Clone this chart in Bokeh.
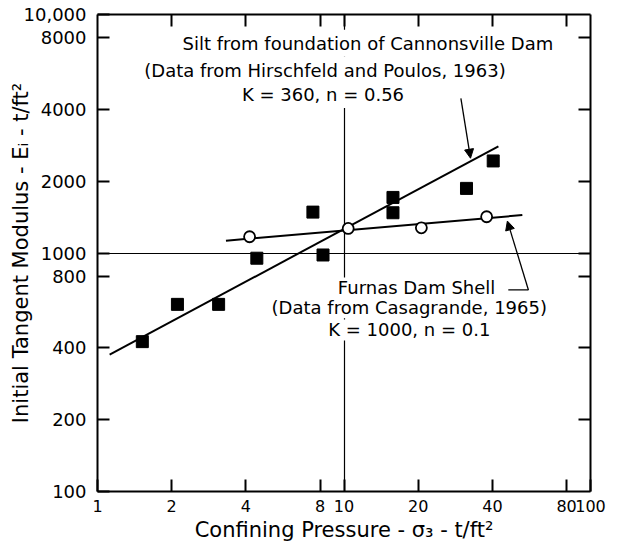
from bokeh.plotting import figure
from bokeh.models import LogAxis, FixedTicker, Label, Arrow, NormalHead, Range1d
from bokeh.embed import file_html
from bokeh.resources import INLINE

# ---- data ----
x_ticks = [1, 2, 4, 8, 10, 20, 40, 80, 100]
x_tick_labels = ["1", "2", "4", "8", "10", "20", "40", "80", "100"]
y_ticks = [100, 200, 400, 800, 1000, 2000, 4000, 8000, 10000]
y_tick_labels = ["100", "200", "400", "800", "1000", "2000", "4000", "8000", "10,000"]

# Silt from foundation of Cannonsville Dam (filled squares)
silt_x = [1.52, 2.11, 3.10, 4.43, 7.48, 8.22, 15.8, 15.8, 31.4, 40.3]
silt_y = [425, 609, 609, 951, 1484, 981, 1710, 1475, 1866, 2432]
silt_fit_x = [1.12, 42.3]
silt_fit_y = [375, 2800]

# Furnas Dam Shell (open circles)
furnas_x = [4.14, 10.4, 20.6, 37.9]
furnas_y = [1170, 1268, 1275, 1419]
furnas_fit_x = [3.32, 52.9]
furnas_fit_y = [1126, 1442]

silt_text = ["Silt from foundation of Cannonsville Dam",
             "(Data from Hirschfeld and Poulos, 1963)",
             "K = 360,  n = 0.56"]
silt_text_x = [12.5, 8.37, 8.44]
silt_text_y = [7570, 5834, 4624]

furnas_text = ["Furnas Dam Shell",
               "(Data from Casagrande, 1965)",
               "K = 1000, n = 0.1"]
furnas_text_x = [19.7, 18.4, 18.4]
furnas_text_y = [714, 589, 476]

silt_arrow = dict(x_start=29.8, y_start=4451, x_end=32.6, y_end=2497)
furnas_leader_x = [46.4, 56.0]
furnas_leader_y = [700, 700]
furnas_arrow = dict(x_start=56.0, y_start=700, x_end=46.0, y_end=1361)

FONT = "DejaVu Sans"

p = figure(x_axis_type="log", y_axis_type="log",
           x_range=Range1d(1, 100), y_range=Range1d(100, 10000),
           frame_width=493, frame_height=477,
           min_border_left=97, min_border_top=14, min_border_right=17, min_border_bottom=53,
           output_backend="svg", toolbar_location=None)
p.outline_line_color = None
p.background_fill_color = "white"
p.border_fill_color = "white"

# extra axes (ticks only)
top = LogAxis()
right = LogAxis()
p.add_layout(top, "above")
p.add_layout(right, "right")


def style_axis(ax, ticks, labels, show_labels=True):
    ax.ticker = FixedTicker(ticks=ticks)
    if show_labels:
        ax.major_label_overrides = {t: l for t, l in zip(ticks, labels)}
    else:
        ax.major_label_overrides = {t: "" for t in ticks}
        ax.major_label_standoff = 0
    ax.major_tick_in = 12
    ax.major_tick_out = 0
    ax.minor_tick_line_color = None
    ax.axis_line_width = 2
    ax.axis_line_color = "black"
    ax.major_tick_line_width = 2
    ax.major_tick_line_color = "black"
    ax.major_label_text_font = FONT
    ax.major_label_text_font_size = "18px"
    ax.major_label_text_color = "black"
    ax.axis_label_text_font = FONT
    ax.axis_label_text_font_size = "21px"
    ax.axis_label_text_font_style = "normal"
    ax.axis_label_text_color = "black"


for ax in p.xaxis:
    style_axis(ax, x_ticks, x_tick_labels)
for ax in p.yaxis:
    style_axis(ax, y_ticks, y_tick_labels)
style_axis(top, x_ticks[1:-1], x_tick_labels[1:-1], show_labels=False)
style_axis(right, y_ticks[1:-1], y_tick_labels[1:-1], show_labels=False)

p.below[0].major_label_text_font_size = "16px"
p.below[0].major_label_standoff = 8
p.left[0].major_label_standoff = 11
p.below[0].axis_label = "Confining Pressure - σ₃ - t/ft²"
p.below[0].axis_label_standoff = 3
p.left[0].axis_label = "Initial Tangent Modulus - Eᵢ - t/ft²"
p.left[0].axis_label_standoff = -12

# reference lines at x=10 and y=1000
p.xgrid.ticker = FixedTicker(ticks=[10])
p.ygrid.ticker = FixedTicker(ticks=[1000])
p.xgrid.grid_line_color = "black"
p.ygrid.grid_line_color = "black"
p.xgrid.grid_line_width = 1.2
p.ygrid.grid_line_width = 1.2
p.xgrid.grid_line_alpha = 1
p.ygrid.grid_line_alpha = 1

# fitted lines
p.line(silt_fit_x, silt_fit_y, line_color="black", line_width=2)
p.line(furnas_fit_x, furnas_fit_y, line_color="black", line_width=2)

# data points
p.scatter(silt_x, silt_y, marker="square", size=12, fill_color="black", line_color="black")
p.scatter(furnas_x, furnas_y, marker="circle", size=11, fill_color="white",
          line_color="black", line_width=1.8)

# annotations
for t, x, y in zip(silt_text, silt_text_x, silt_text_y):
    p.add_layout(Label(x=x, y=y, text=t, text_align="center", text_baseline="middle",
                       text_font=FONT, text_font_size="18px", text_color="black",
                       background_fill_color="white", padding=3))
for t, x, y in zip(furnas_text, furnas_text_x, furnas_text_y):
    p.add_layout(Label(x=x, y=y, text=t, text_align="center", text_baseline="middle",
                       text_font=FONT, text_font_size="18px", text_color="black",
                       background_fill_color="white", padding=0))

p.add_layout(Arrow(end=NormalHead(size=9, fill_color="black", line_color="black"),
                   line_width=1.3, line_color="black", **silt_arrow))
p.line(furnas_leader_x, furnas_leader_y, line_color="black", line_width=1.3)
p.add_layout(Arrow(end=NormalHead(size=9, fill_color="black", line_color="black"),
                   line_width=1.3, line_color="black", **furnas_arrow))

open("out.html", "w").write(file_html(p, INLINE))
